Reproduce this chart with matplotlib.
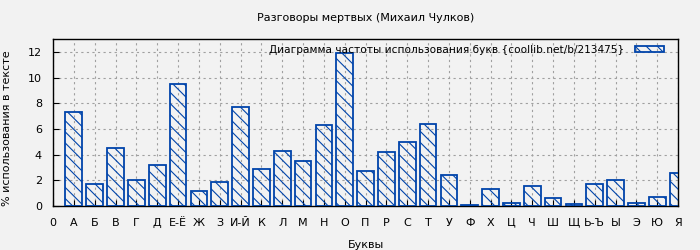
import matplotlib
matplotlib.use("Agg")
import matplotlib.pyplot as plt
import numpy as np

letters = ["А", "Б", "В", "Г", "Д", "Е-Ё", "Ж", "З", "И-Й", "К", "Л", "М", "Н", "О",
           "П", "Р", "С", "Т", "У", "Ф", "Х", "Ц", "Ч", "Ш", "Щ", "Ь-Ъ", "Ы", "Э", "Ю", "Я"]
values = [7.32, 1.69, 4.5, 2.0, 3.18, 9.5, 1.15, 1.85, 7.71, 2.86, 4.27, 3.49, 6.30, 11.93,
          2.71, 4.19, 4.97, 6.38, 2.40, 0.08, 1.30, 0.21, 1.56, 0.60, 0.16, 1.69, 2.0, 0.21, 0.68, 2.55]
tick_labels = ["0"] + letters

plt.rcParams['font.family'] = ['DejaVu Sans']
plt.rcParams['hatch.color'] = '#0044aa'
plt.rcParams['hatch.linewidth'] = 0.8

fig = plt.figure(figsize=(7, 2.5), dpi=100, facecolor='#f2f2f2')
ax = fig.add_axes([0.0757, 0.176, 0.893, 0.668])
ax.set_facecolor('#f2f2f2')

x = np.arange(1, len(letters) + 1)
ax.bar(x, values, width=0.8, facecolor='none', edgecolor='#0044aa', linewidth=1.3,
       hatch='\\\\\\', label='Диаграмма частоты использования букв {coollib.net/b/213475}', zorder=3)

ax.set_xlim(0, 30)
ax.set_ylim(0, 13)
ax.set_xticks(np.arange(0, 31))
ax.set_xticklabels(tick_labels, fontsize=8)
ax.set_yticks(np.arange(0, 13, 2))
ax.tick_params(axis='y', labelsize=8, direction='in', length=4, pad=8)
ax.tick_params(axis='x', direction='in', length=4, pad=8.5)
ax.grid(True, linestyle=(0, (2, 3)), color='#a0a0a0', linewidth=0.8, zorder=0)
for s in ax.spines.values():
    s.set_linewidth(1.0)

ax.set_xlabel('Буквы', fontsize=8)
ax.xaxis.set_label_coords(0.5, -0.204)
ax.set_ylabel('% использования в тексте', fontsize=8)
ax.yaxis.set_label_coords(-0.066, 0.467)
fig.text(0.0757 + 0.893 / 2, 1 - 18 / 250, 'Разговоры мертвых (Михаил Чулков)',
         fontsize=8, ha='center', va='center')

leg = ax.legend(loc='upper right', bbox_to_anchor=(0.978, 0.964), frameon=False, fontsize=7.6,
                markerfirst=False, handlelength=2.8, handleheight=0.45, handletextpad=1.0,
                borderaxespad=0, borderpad=0)

fig.savefig('out.png', dpi=100, facecolor=fig.get_facecolor())
